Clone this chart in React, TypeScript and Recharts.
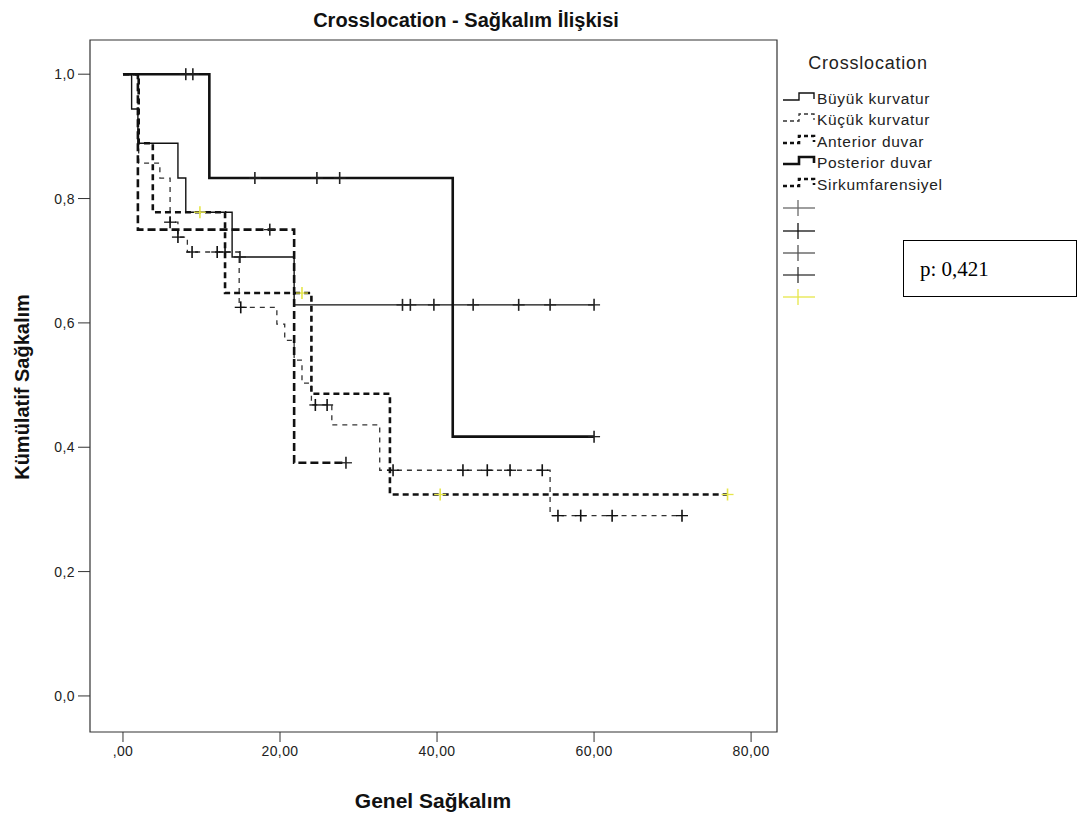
import React from 'react';
import { ComposedChart, Line, Scatter, XAxis, YAxis, ReferenceArea } from 'recharts';

// Axis ranges and ticks
const X_MIN = -4.2;
const X_MAX = 83.3;
const Y_MIN = -0.058;
const Y_MAX = 1.055;

const xTicks = [0, 20, 40, 60, 80];
const xTickLabels = [',00', '20,00', '40,00', '60,00', '80,00'];
const yTicks = [0, 0.2, 0.4, 0.6, 0.8, 1.0];
const yTickLabels = ['0,0', '0,2', '0,4', '0,6', '0,8', '1,0'];

const groupNames = ['Büyük kurvatur', 'Küçük kurvatur', 'Anterior duvar', 'Posterior duvar', 'Sirkumfarensiyel'];

// Büyük kurvatur: event times, survival after each event, censored times
const buyukTimes = [0, 1.1, 1.9, 7.0, 8.0, 13.9, 21.8, 60];
const buyukSurv = [1.0, 0.944, 0.889, 0.833, 0.778, 0.706, 0.629, 0.629];
const buyukCensored = [14.9, 35.6, 36.6, 39.6, 44.6, 50.4, 54.4, 60];

// Küçük kurvatur
const kucukTimes = [0, 2, 4.7, 6, 7, 8.2, 14.8, 19.6, 20.6, 21.8, 22.8, 24, 26.6, 32.7, 54.4, 71.2];
const kucukSurv = [1.0, 0.857, 0.833, 0.762, 0.738, 0.714, 0.625, 0.598, 0.572, 0.54, 0.503, 0.468, 0.436, 0.363, 0.29, 0.29];
const kucukCensored = [6, 7, 8.8, 12, 13, 15, 24.5, 26, 34.4, 43.3, 46.4, 49.3, 53.4, 55.4, 58.3, 62.3, 71.2];

// Anterior duvar
const anteriorTimes = [0, 1.9, 21.8, 28.4];
const anteriorSurv = [1.0, 0.75, 0.375, 0.375];
const anteriorCensored = [18.7, 28.4];

// Posterior duvar
const posteriorTimes = [0, 11, 42, 60];
const posteriorSurv = [1.0, 0.833, 0.417, 0.417];
const posteriorCensored = [8, 8.9, 16.8, 24.7, 27.6, 60];

// Sirkumfarensiyel
const sirkTimes = [0, 2, 3.8, 13, 24, 34, 77];
const sirkSurv = [1.0, 0.889, 0.778, 0.648, 0.486, 0.324, 0.324];
const sirkCensored = [9.8, 22.8, 40.4, 77];

type Pt = { t: number; s: number };

const toSteps = (times: number[], surv: number[]): Pt[] =>
  times.map((t, i) => ({ t, s: surv[i] }));

const survAt = (times: number[], surv: number[], t: number): number => {
  let v = surv[0];
  for (let i = 0; i < times.length; i++) {
    if (times[i] <= t) v = surv[i];
  }
  return v;
};

const toCensor = (times: number[], surv: number[], cens: number[]): Pt[] =>
  cens.map((t) => ({ t, s: survAt(times, surv, t) }));

const series = [
  { name: groupNames[0], steps: toSteps(buyukTimes, buyukSurv), cens: toCensor(buyukTimes, buyukSurv, buyukCensored), width: 1.4, dash: undefined as string | undefined, color: '#111', censorColor: '#222' },
  { name: groupNames[1], steps: toSteps(kucukTimes, kucukSurv), cens: toCensor(kucukTimes, kucukSurv, kucukCensored), width: 1.3, dash: '5 5', color: '#333', censorColor: '#111' },
  { name: groupNames[2], steps: toSteps(anteriorTimes, anteriorSurv), cens: toCensor(anteriorTimes, anteriorSurv, anteriorCensored), width: 2.6, dash: '8 4', color: '#111', censorColor: '#222' },
  { name: groupNames[3], steps: toSteps(posteriorTimes, posteriorSurv), cens: toCensor(posteriorTimes, posteriorSurv, posteriorCensored), width: 2.6, dash: undefined, color: '#111', censorColor: '#222' },
  { name: groupNames[4], steps: toSteps(sirkTimes, sirkSurv), cens: toCensor(sirkTimes, sirkSurv, sirkCensored), width: 2.6, dash: '6 4', color: '#111', censorColor: '#e6e64a' },
];

const legendCensorColors = ['#6a6a6a', '#111', '#555', '#333', '#e6e64a'];

const FONT = '"Liberation Sans", Arial, sans-serif';

const makeCross = (color: string) => (props: any) => {
  const { cx, cy } = props;
  if (cx == null || cy == null) return <g />;
  return (
    <g>
      <line x1={cx - 6} y1={cy} x2={cx + 6} y2={cy} stroke={color} strokeWidth={1.3} />
      <line x1={cx} y1={cy - 6} x2={cx} y2={cy + 6} stroke={color} strokeWidth={1.6} />
    </g>
  );
};

const LegendIcon = ({ y, width, dash, color }: { y: number; width: number; dash?: string; color: string }) => (
  <path
    d={`M783 ${y + 2} H799 V${y - 5} H814 V${y + 1}`}
    fill="none"
    stroke={color}
    strokeWidth={width}
    strokeDasharray={dash ? '4 3' : undefined}
  />
);

const legendRowsY = [98, 119, 141, 162, 184];
const legendCensorY = [208, 231, 253, 275, 297];

export default function App() {
  return (
    <div style={{ position: 'absolute', left: 0, top: 0, width: 1080, height: 815, background: '#fff' }}>
      <ComposedChart
        width={1080}
        height={815}
        margin={{ top: 40, right: 303, bottom: 53, left: 40 }}
      >
        <XAxis
          dataKey="t"
          type="number"
          domain={[X_MIN, X_MAX]}
          allowDataOverflow
          ticks={xTicks}
          tickFormatter={(v: number) => xTickLabels[xTicks.indexOf(v)]}
          tickSize={10}
          tickMargin={4}
          height={30}
          axisLine={false}
          tickLine={{ stroke: '#333' }}
          tick={{ fill: '#222', fontSize: 14, fontFamily: FONT, letterSpacing: 0.4 }}
        />
        <YAxis
          dataKey="s"
          type="number"
          domain={[Y_MIN, Y_MAX]}
          allowDataOverflow
          ticks={yTicks}
          tickFormatter={(v: number) => yTickLabels[yTicks.indexOf(v)]}
          tickSize={12}
          tickMargin={3}
          width={50}
          axisLine={false}
          tickLine={{ stroke: '#333' }}
          tick={{ fill: '#222', fontSize: 14, fontFamily: FONT, letterSpacing: 0.4 }}
        />
        <ReferenceArea x1={X_MIN} x2={X_MAX} y1={Y_MIN} y2={Y_MAX} fill="none" stroke="#333" strokeWidth={1.2} ifOverflow="visible" />
        {series.map((s) => (
          <Line
            key={s.name}
            data={s.steps}
            dataKey="s"
            type="stepAfter"
            stroke={s.color}
            strokeWidth={s.width}
            strokeDasharray={s.dash}
            dot={false}
            activeDot={false}
            isAnimationActive={false}
            legendType="none"
          />
        ))}
        {series.map((s) => (
          <Scatter
            key={s.name + '-c'}
            data={s.cens}
            dataKey="s"
            shape={makeCross(s.censorColor)}
            isAnimationActive={false}
            legendType="none"
          />
        ))}
      </ComposedChart>

      <svg
        width={1080}
        height={815}
        style={{ position: 'absolute', left: 0, top: 0, pointerEvents: 'none' }}
      >
        <text x={466} y={27} textAnchor="middle" fontFamily={FONT} fontWeight="bold" fontSize={20} fill="#111">
          Crosslocation - Sağkalım İlişkisi
        </text>
        <text x={433} y={808} textAnchor="middle" fontFamily={FONT} fontWeight="bold" fontSize={21} fill="#111">
          Genel Sağkalım
        </text>
        <text
          x={0}
          y={0}
          transform="translate(29 387) rotate(-90)"
          textAnchor="middle"
          fontFamily={FONT}
          fontWeight="bold"
          fontSize={20}
          fill="#111"
        >
          Kümülatif Sağkalım
        </text>

        <text x={868} y={69} textAnchor="middle" fontFamily={FONT} fontSize={18} letterSpacing={0.8} fill="#222">
          Crosslocation
        </text>
        {series.map((s, i) => (
          <g key={s.name + '-leg'}>
            <LegendIcon y={legendRowsY[i]} width={s.width} dash={s.dash} color={s.color} />
            <text x={817} y={legendRowsY[i] + 6} fontFamily={FONT} fontSize={15.5} letterSpacing={0.7} fill="#222">
              {s.name}
            </text>
          </g>
        ))}
        {legendCensorColors.map((c, i) => (
          <g key={'lc' + i}>
            <line x1={783} y1={legendCensorY[i]} x2={815} y2={legendCensorY[i]} stroke={c} strokeWidth={1.3} />
            <line x1={798} y1={legendCensorY[i] - 8} x2={798} y2={legendCensorY[i] + 8} stroke={c} strokeWidth={1.3} />
          </g>
        ))}

        <rect x={903.5} y={240.5} width={173} height={56} fill="#fff" stroke="#000" strokeWidth={1} />
        <text x={920} y={276} fontFamily={'"Liberation Serif", "Times New Roman", serif'} fontSize={21} fill="#000">
          p: 0,421
        </text>
      </svg>
    </div>
  );
}
